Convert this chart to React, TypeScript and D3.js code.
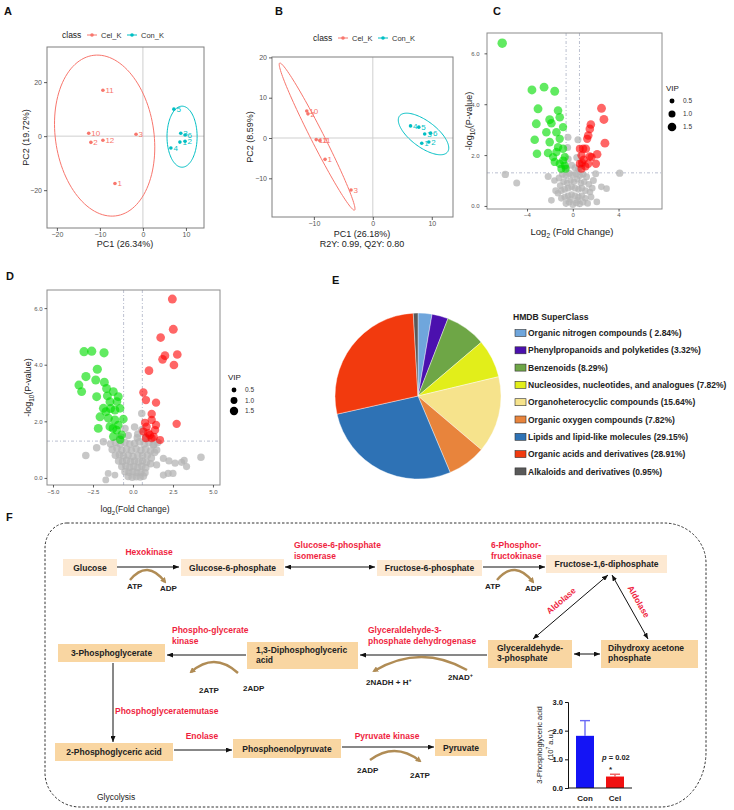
import React, { useEffect, useRef } from "react";
import * as d3 from "d3";

const FONT = "'Liberation Sans', Arial, Helvetica, sans-serif";
const CEL = "#f8766d";
const CON = "#00bfc4";

// ---------- A: PCA scores ----------
const pcaClasses = ["Cel_K", "Con_K"];
const pcaACel: [string, number, number][] = [
  ["11", -9.3, 17], ["10", -12.6, 1.1], ["2", -12.1, -2.3],
  ["12", -9.3, -1.5], ["3", -1.6, 0.7], ["1", -6.5, -17.5],
];
const pcaACon: [string, number, number][] = [
  ["5", 7.2, 10], ["3", 8.8, 1.1], ["6", 9.8, 0.4],
  ["2", 9.8, -1.9], ["1", 8.6, -2.2], ["4", 6.5, -4.4],
];
// ellipse: centre x, centre y, first semi-axis (x,y), second semi-axis (x,y)
const pcaAEllipses = [
  [-8.9, 0.2, -1.9, 29.8, 11.5, 0.5],
  [9.1, -0.2, 0, 11.3, 3.5, 0],
];
const pcaAXTicks = [-20, -10, 0, 10];
const pcaAYTicks = [-20, 0, 20];

// ---------- B: OPLS-DA scores ----------
const plsBCel: [string, number, number][] = [
  ["10", -11.2, 6.7], ["2", -11.0, 6.0], ["12", -9.6, -0.4],
  ["11", -9.0, -0.6], ["1", -8.1, -5.3], ["3", -3.7, -12.9],
];
const plsBCon: [string, number, number][] = [
  ["4", 6.4, 3.0], ["5", 7.8, 2.7], ["3", 8.8, 1.0],
  ["6", 9.8, 1.2], ["1", 8.3, -1.3], ["2", 9.5, -1.0],
];
const plsBEllipses = [
  [-9.45, 0.35, -6.35, 18.25, 0.98, 0.73],
  [8.6, 1.0, 4.07, -4.47, 1.32, 2.58],
];
const plsBXTicks = [-10, 0, 10];
const plsBYTicks = [-10, 0, 10, 20];

// ---------- C / D: volcano plots  [log2FC, -log10 p, VIP] ----------
const volcCDown = [
  [-6.17, 6.4, 1.8], [-3.57, 4.56, 1.6], [-2.51, 4.67, 1.6], [-1.58, 4.51, 1.6], [-3.04, 3.82, 1.6],
  [-1.29, 3.75, 1.5], [-3.19, 3.23, 1.6], [-2.02, 3.39, 1.6], [-1.87, 3.25, 1.5], [-1.14, 3.49, 1.5],
  [-0.85, 3.1, 1.4], [-2.31, 2.9, 1.5], [-1.43, 2.9, 1.5], [-3.33, 2.6, 1.5], [-2.02, 2.51, 1.5],
  [-1.14, 2.64, 1.4], [-1.29, 2.31, 1.4], [-3.13, 2.05, 1.5], [-2.16, 2.08, 1.5], [-1.43, 2.12, 1.4],
  [-0.85, 2.25, 1.4], [-0.7, 1.92, 1.3], [-1.14, 1.66, 1.4], [-0.7, 1.59, 1.3], [-1.58, 1.73, 1.4],
  [-1.0, 1.46, 1.3], [-0.62, 1.46, 1.3], [-0.85, 1.79, 1.3], [-1.72, 1.92, 1.4],
];
const volcCUp = [
  [2.51, 3.84, 1.6], [2.72, 3.4, 1.6], [1.58, 3.2, 1.5], [1.49, 3.03, 1.5], [1.35, 2.77, 1.5],
  [1.26, 2.64, 1.4], [2.81, 2.47, 1.6], [0.91, 2.25, 1.4], [1.14, 2.25, 1.5], [0.76, 1.99, 1.4],
  [1.49, 1.95, 1.4], [2.13, 2.03, 1.5], [0.61, 1.66, 1.3], [1.35, 1.66, 1.4], [2.02, 1.66, 1.4],
  [0.76, 1.46, 1.3], [1.64, 1.92, 1.4], [0.96, 1.82, 1.4], [0.61, 2.25, 1.3], [1.1, 1.55, 1.3], [0.8, 1.7, 1.3],
];
const volcCNs = [
  [-5.9, 1.24, 1.1], [-4.9, 0.9, 1.0], [-2.15, 1.16, 1.0], [-0.42, 2.7, 1.0], [0.45, 2.6, 1.0],
  [-0.45, 2.3, 1.0], [2.0, 1.27, 1.0], [4.1, 1.29, 1.1], [-1.87, 0.22, 0.9], [-1.5, 0.6, 0.9],
  [2.95, 0.68, 0.9], [2.5, 0.75, 0.9], [2.1, 0.16, 0.9], [1.8, 1.0, 1.0],
  [-1.2, 1.1, 1.0], [-0.9, 1.25, 1.0], [-0.6, 1.2, 1.0], [-0.3, 1.28, 1.0], [0.0, 1.22, 1.0],
  [0.3, 1.27, 1.0], [0.6, 1.2, 1.0], [0.9, 1.25, 1.0], [1.2, 1.15, 1.0], [-1.1, 0.8, 0.9],
  [-0.8, 0.95, 0.9], [-0.5, 0.9, 0.9], [-0.2, 1.0, 0.9], [0.1, 0.95, 0.9], [0.4, 1.05, 0.9],
  [0.7, 0.9, 0.9], [1.0, 0.95, 0.9], [1.4, 0.85, 0.9], [-1.3, 0.5, 0.9], [-1.0, 0.6, 0.9],
  [-0.7, 0.65, 0.9], [-0.4, 0.7, 0.9], [-0.1, 0.75, 0.9], [0.2, 0.7, 0.9], [0.5, 0.65, 0.9],
  [0.8, 0.7, 0.9], [1.1, 0.6, 0.9], [1.5, 0.55, 0.9], [-1.0, 0.3, 0.9], [-0.7, 0.35, 0.9],
  [-0.4, 0.4, 0.9], [-0.1, 0.45, 0.9], [0.2, 0.4, 0.9], [0.5, 0.35, 0.9], [0.8, 0.4, 0.9],
  [1.1, 0.3, 0.9], [1.6, 0.35, 0.9], [-0.6, 0.1, 0.9], [-0.3, 0.15, 0.9], [0.0, 0.05, 0.9],
  [0.3, 0.12, 0.9], [0.6, 0.08, 0.9], [0.9, 0.15, 0.9], [-0.2, 0.25, 0.9], [0.4, 0.22, 0.9],
  [1.3, 0.1, 0.9], [-1.6, 1.0, 0.9], [1.7, 0.7, 0.9], [0.2, 1.5, 1.0], [-0.1, 1.6, 1.0],
  [0.5, 1.45, 1.0], [-0.6, 1.5, 1.0], [0.8, 1.6, 1.0], [-0.4, 1.85, 1.0], [0.35, 1.9, 1.0],
];
const volcCXTicks = [-4, 0, 4];
const volcCYTicks = [0, 2, 4, 6];

const volcDDown = [
  [-3.06, 4.46, 1.8], [-2.58, 4.48, 1.8], [-1.81, 4.42, 1.8], [-2.23, 3.84, 1.8], [-2.94, 3.58, 1.8],
  [-2.33, 3.46, 1.7], [-3.38, 3.28, 1.7], [-3.21, 3.05, 1.7], [-1.79, 3.38, 1.7], [-1.65, 3.16, 1.7],
  [-2.27, 2.87, 1.7], [-1.23, 3.05, 1.7], [-1.44, 2.69, 1.7], [-0.92, 2.87, 1.7], [-1.85, 2.46, 1.7],
  [-1.13, 2.4, 1.7], [-0.81, 2.46, 1.6], [-2.06, 2.16, 1.7], [-1.54, 2.11, 1.7], [-1.13, 2.05, 1.7],
  [-0.6, 2.08, 1.6], [-2.17, 1.75, 1.7], [-1.44, 1.81, 1.7], [-1.02, 1.69, 1.6], [-1.23, 1.46, 1.6],
  [-0.71, 1.52, 1.6], [-0.92, 1.87, 1.6], [-1.69, 2.34, 1.7], [-1.4, 2.45, 1.7], [-1.0, 2.7, 1.6],
  [-1.6, 2.9, 1.7], [-0.8, 1.35, 1.5], [-1.25, 1.75, 1.6],
];
const volcDUp = [
  [2.46, 6.32, 1.7], [2.52, 5.25, 1.7], [1.73, 4.96, 1.6], [2.77, 4.36, 1.6], [2.0, 4.32, 1.6],
  [1.85, 4.19, 1.6], [2.56, 3.99, 1.6], [1.0, 3.79, 1.6], [0.65, 3.02, 1.5], [0.81, 2.75, 1.5],
  [1.44, 2.66, 1.5], [1.17, 2.26, 1.5], [1.17, 2.05, 1.5], [1.44, 1.87, 1.5], [2.73, 1.91, 1.5],
  [0.85, 1.81, 1.5], [0.96, 1.58, 1.5], [1.38, 1.69, 1.5], [0.81, 1.4, 1.4], [1.69, 1.34, 1.4],
  [1.17, 1.4, 1.4], [0.65, 1.64, 1.4], [1.06, 1.52, 1.5], [0.75, 1.95, 1.4], [1.3, 1.45, 1.4],
];
const volcDNs = [
  [-2.95, 0.79, 1.2], [-2.27, 1.07, 1.2], [-1.85, 1.28, 1.2], [-1.7, -0.07, 1.0], [-1.55, 0.16, 1.0],
  [-1.13, 0.1, 1.0], [0.55, 2.28, 1.2], [4.25, 0.73, 1.2], [2.63, 0.52, 1.1], [3.04, 0.55, 1.1],
  [3.35, 0.4, 1.1], [2.2, 0.16, 1.1], [2.5, 0.16, 1.1], [1.9, 0.1, 1.1], [1.48, 0.46, 1.1],
  [1.9, 0.69, 1.1], [1.48, 0.99, 1.2], [1.27, 1.16, 1.2], [0.27, 1.42, 1.2], [2.25, 0.6, 1.1], [3.2, 0.62, 1.1],
  [-1.4, 1.2, 1.2], [-1.1, 1.25, 1.2], [-0.8, 1.2, 1.2], [-0.5, 1.25, 1.2], [-0.2, 1.2, 1.2],
  [0.1, 1.22, 1.2], [0.4, 1.28, 1.2], [0.7, 1.2, 1.2], [1.0, 1.25, 1.2], [1.3, 1.18, 1.2], [1.55, 1.25, 1.2],
  [-1.3, 1.0, 1.2], [-1.0, 1.05, 1.2], [-0.7, 0.98, 1.2], [-0.4, 1.02, 1.2], [-0.1, 0.97, 1.2],
  [0.2, 1.03, 1.2], [0.5, 0.98, 1.2], [0.8, 1.02, 1.2], [1.1, 0.95, 1.2], [1.35, 0.9, 1.2],
  [-1.1, 0.8, 1.2], [-0.85, 0.82, 1.2], [-0.6, 0.78, 1.2], [-0.3, 0.8, 1.2], [0.0, 0.76, 1.2],
  [0.3, 0.8, 1.2], [0.6, 0.78, 1.2], [0.9, 0.8, 1.2], [1.15, 0.7, 1.2],
  [-0.9, 0.6, 1.2], [-0.65, 0.58, 1.2], [-0.4, 0.62, 1.2], [-0.15, 0.57, 1.2], [0.1, 0.6, 1.2],
  [0.35, 0.56, 1.2], [0.6, 0.6, 1.2], [0.85, 0.55, 1.2], [1.1, 0.5, 1.2],
  [-0.7, 0.4, 1.2], [-0.45, 0.42, 1.2], [-0.2, 0.38, 1.2], [0.05, 0.4, 1.2], [0.3, 0.37, 1.2],
  [0.55, 0.41, 1.2], [0.8, 0.36, 1.2],
  [-0.5, 0.22, 1.2], [-0.25, 0.2, 1.2], [0.0, 0.22, 1.2], [0.25, 0.18, 1.2], [0.5, 0.2, 1.2], [0.75, 0.18, 1.2],
  [-0.3, 0.05, 1.2], [-0.05, 0.02, 1.2], [0.2, 0.04, 1.2], [0.45, 0.03, 1.2], [0.65, 0.06, 1.2],
  [-0.8, 1.45, 1.2], [-0.3, 1.5, 1.2], [0.3, 1.55, 1.2], [0.8, 1.45, 1.2], [-0.5, 1.75, 1.2],
  [0.1, 1.8, 1.2], [0.55, 1.7, 1.2],
];
const volcDXTicks = [-5, -2.5, 0, 2.5, 5];
const volcDYTicks = [0, 2, 4, 6];
const vipLegend = [0.5, 1.0, 1.5];
const fcCut = Math.log2(1.5);
const pCut = -Math.log10(0.05);

// ---------- E: HMDB super classes ----------
const superClassLabels = [
  "Organic nitrogen compounds ( 2.84%)",
  "Phenylpropanoids and polyketides (3.32%)",
  "Benzenoids (8.29%)",
  "Nucleosides, nucleotides, and analogues (7.82%)",
  "Organoheterocyclic compounds (15.64%)",
  "Organic oxygen compounds (7.82%)",
  "Lipids and lipid-like molecules (29.15%)",
  "Organic acids and derivatives (28.91%)",
  "Alkaloids and derivatives (0.95%)",
];
const superClassPct = [2.84, 3.32, 8.29, 7.82, 15.64, 7.82, 29.15, 28.91, 0.95];
const superClassColors = [
  "#6fa6dc", "#4b10ae", "#6ea646", "#e2ee1a", "#f6e38c", "#e8843c", "#2e72b5", "#f23a0e", "#595959",
];

// ---------- F: glycolysis pathway ----------
const metabolites = [
  ["Glucose"], ["Glucose-6-phosphate"], ["Fructose-6-phosphate"], ["Fructose-1,6-diphosphate"],
  ["Glyceraldehyde-", "3-phosphate"], ["Dihydroxy acetone", "phosphate"], ["1,3-Diphosphoglyceric", "acid"],
  ["3-Phosphoglycerate"], ["2-Phosphoglyceric acid"], ["Phosphoenolpyruvate"], ["Pyruvate"],
];
const enzymes = [
  ["Hexokinase"], ["Glucose-6-phosphate", "isomerase"], ["6-Phosphor-", "fructokinase"], ["Aldolase"],
  ["Aldolase"], ["Glyceraldehyde-3-", "phosphate dehydrogenase"], ["Phospho-glycerate", "kinase"],
  ["Phosphoglyceratemutase"], ["Enolase"], ["Pyruvate kinase"],
];
const cofactors = [
  [["ATP", ""], ["ADP", ""]], [["ATP", ""], ["ADP", ""]], [["2NADH + H", "+"], ["2NAD", "+"]],
  [["2ATP", ""], ["2ADP", ""]], [["2ADP", ""], ["2ATP", ""]],
];
const barGroups = ["Con", "Cel"];
const barMean = [1.82, 0.4];
const barUpper = [2.35, 0.48];
const barTicks = [0, 1, 2, 3];

// layout of the pathway drawing (positions only)
const nodeBoxes = [
  { x: 63, y: 559, w: 54, h: 17, tone: 0, tx: 0 },
  { x: 181, y: 559, w: 103, h: 17, tone: 0, tx: 0 },
  { x: 377, y: 560, w: 105, h: 16, tone: 0, tx: 0 },
  { x: 546, y: 555, w: 121, h: 18, tone: 0, tx: 0 },
  { x: 488, y: 640, w: 84, h: 28, tone: 1, tx: 9 },
  { x: 601, y: 640, w: 97, h: 28, tone: 1, tx: 7 },
  { x: 247, y: 642, w: 111, h: 27, tone: 1, tx: 9 },
  { x: 58, y: 644, w: 107, h: 18, tone: 1, tx: 0 },
  { x: 55, y: 743, w: 118, h: 18, tone: 1, tx: 0 },
  { x: 233, y: 739, w: 108, h: 19, tone: 1, tx: 0 },
  { x: 435, y: 739, w: 52, h: 17, tone: 1, tx: 0 },
];
const reactionLines = [
  { x1: 117, y1: 567, x2: 179, y2: 567, both: false },
  { x1: 285, y1: 567, x2: 375, y2: 567, both: true },
  { x1: 483, y1: 567, x2: 545, y2: 567, both: false },
  { x1: 608, y1: 575, x2: 533, y2: 639, both: true },
  { x1: 612, y1: 575, x2: 648, y2: 639, both: true },
  { x1: 574, y1: 654, x2: 600, y2: 654, both: true },
  { x1: 487, y1: 655, x2: 360, y2: 655, both: false },
  { x1: 246, y1: 655, x2: 167, y2: 655, both: false },
  { x1: 113, y1: 663, x2: 113, y2: 742, both: false },
  { x1: 174, y1: 750, x2: 232, y2: 750, both: false },
  { x1: 342, y1: 747, x2: 434, y2: 747, both: false },
];
const enzymePos = [
  { x: 149, y: 555, anchor: "middle", rot: 0 },
  { x: 294, y: 548, anchor: "start", rot: 0 },
  { x: 491, y: 548, anchor: "start", rot: 0 },
  { x: 563, y: 603, anchor: "middle", rot: -40.5 },
  { x: 636, y: 603, anchor: "middle", rot: 60 },
  { x: 368, y: 633, anchor: "start", rot: 0 },
  { x: 172, y: 633, anchor: "start", rot: 0 },
  { x: 115, y: 714, anchor: "start", rot: 0 },
  { x: 202, y: 739, anchor: "middle", rot: 0 },
  { x: 387, y: 739, anchor: "middle", rot: 0 },
];
// curved cofactor arrows: start, end, peak height; labels left/right
const cofactorArcs = [
  { x1: 130, y1: 580, x2: 165, y2: 582, peak: 570, la: [127, 589], ra: [160, 591] },
  { x1: 497, y1: 580, x2: 533, y2: 582, peak: 570, la: [485, 589], ra: [525, 591] },
  { x1: 467, y1: 670, x2: 374, y2: 671, peak: 657, la: [366, 685], ra: [448, 680] },
  { x1: 238, y1: 673, x2: 191, y2: 672, peak: 662, la: [199, 693], ra: [243, 691] },
  { x1: 370, y1: 760, x2: 420, y2: 761, peak: 751, la: [357, 773], ra: [410, 778] },
];

const txt = (g: any, x: number, y: number, s: string, o: any = {}) =>
  g.append("text")
    .attr("x", x)
    .attr("y", y)
    .attr("font-family", FONT)
    .attr("font-size", o.size ?? 8)
    .attr("font-weight", o.weight ?? "normal")
    .attr("font-style", o.style ?? "normal")
    .attr("fill", o.fill ?? "#222")
    .attr("text-anchor", o.anchor ?? "start")
    .text(s);

const styleAxis = (sel: any, size: number) => {
  sel.select(".domain").remove();
  sel.selectAll("line").attr("stroke", "#333").attr("stroke-width", 0.8);
  sel.selectAll("text").attr("font-size", size).attr("fill", "#555").attr("font-family", FONT);
};

// score plot used for panels A and B
const drawScores = (svg: any, c: any) => {
  const x = d3.scaleLinear().domain(c.xDomain).range([c.l, c.r]);
  const y = d3.scaleLinear().domain(c.yDomain).range([c.b, c.t]);
  const g = svg.append("g");

  g.append("line").attr("x1", x(0)).attr("x2", x(0)).attr("y1", c.t).attr("y2", c.b)
    .attr("stroke", "#cfcfcf").attr("stroke-width", 1);
  g.append("line").attr("x1", c.l).attr("x2", c.r).attr("y1", y(0)).attr("y2", y(0))
    .attr("stroke", "#cfcfcf").attr("stroke-width", 1);

  const line = d3.line();
  c.ellipses.forEach((e: number[], i: number) => {
    const pts = d3.range(0, 121).map((k) => {
      const t = (k / 120) * 2 * Math.PI;
      return [
        x(e[0] + e[2] * Math.cos(t) + e[4] * Math.sin(t)),
        y(e[1] + e[3] * Math.cos(t) + e[5] * Math.sin(t)),
      ] as [number, number];
    });
    g.append("path").attr("d", line(pts)).attr("fill", "none")
      .attr("stroke", i === 0 ? CEL : CON).attr("stroke-width", 1);
  });

  [c.cel, c.con].forEach((set: any[], i: number) => {
    const col = i === 0 ? CEL : CON;
    set.forEach((d) => {
      g.append("circle").attr("cx", x(d[1])).attr("cy", y(d[2])).attr("r", 1.8).attr("fill", col);
      txt(g, x(d[1]) + 2.5, y(d[2]) + 3, d[0], { size: 8, fill: col });
    });
  });

  g.append("rect").attr("x", c.l).attr("y", c.t).attr("width", c.r - c.l).attr("height", c.b - c.t)
    .attr("fill", "none").attr("stroke", "#7f7f7f").attr("stroke-width", 1);

  const ax = g.append("g").attr("transform", `translate(0,${c.b})`)
    .call(d3.axisBottom(x).tickValues(c.xTicks).tickSize(3).tickPadding(1.5));
  styleAxis(ax, 7);
  const ay = g.append("g").attr("transform", `translate(${c.l},0)`)
    .call(d3.axisLeft(y).tickValues(c.yTicks).tickSize(3).tickPadding(2));
  styleAxis(ay, 7);

  c.xTitle.forEach((s: string, i: number) =>
    txt(g, c.xTitleX, c.xTitleY + i * 9.5, s, { size: 9, anchor: "middle", fill: "#222" }));
  txt(g, 0, 0, c.yTitle, { size: 9, anchor: "middle" })
    .attr("transform", `translate(${c.yTitleX},${(c.t + c.b) / 2}) rotate(-90)`);

  // legend
  txt(g, c.legX, c.legY, "class", { size: 8.5 });
  pcaClasses.forEach((name, i) => {
    const gx = c.legX + 25 + i * 40;
    const col = i === 0 ? CEL : CON;
    g.append("line").attr("x1", gx).attr("x2", gx + 10).attr("y1", c.legY - 3).attr("y2", c.legY - 3)
      .attr("stroke", col).attr("stroke-width", 1);
    g.append("circle").attr("cx", gx + 5).attr("cy", c.legY - 3).attr("r", 1.8).attr("fill", col);
    txt(g, gx + 14, c.legY, name, { size: 7.5, fill: "#333" });
  });
};

const subText = (g: any, x: number, y: number, parts: [string, boolean][], size: number, o: any = {}) => {
  const t = g.append("text").attr("x", x).attr("y", y).attr("font-family", FONT).attr("font-size", size)
    .attr("fill", o.fill ?? "#222").attr("text-anchor", o.anchor ?? "middle")
    .attr("font-weight", o.weight ?? "normal");
  let shifted = false;
  parts.forEach(([s, sub]) => {
    const dy = sub && !shifted ? size * 0.3 : !sub && shifted ? -size * 0.3 : 0;
    shifted = sub;
    t.append("tspan").attr("dy", dy).attr("font-size", sub ? size * 0.7 : size).text(s);
  });
  return t;
};

// volcano plot used for panels C and D
const drawVolcano = (svg: any, c: any) => {
  const x = d3.scaleLinear().domain(c.xDomain).range([c.l, c.r]);
  const y = d3.scaleLinear().domain(c.yDomain).range([c.b, c.t]);
  const r = d3.scaleSqrt().domain([0, 1.5]).range([0, c.rMax]);
  const g = svg.append("g");

  const clipId = `clip-${c.id}`;
  g.append("clipPath").attr("id", clipId).append("rect")
    .attr("x", c.l).attr("y", c.t).attr("width", c.r - c.l).attr("height", c.b - c.t);

  const guides = g.append("g").attr("stroke", "#aab0c4").attr("stroke-width", 0.8)
    .attr("stroke-dasharray", "3,2,1,2");
  [-fcCut, fcCut].forEach((v) =>
    guides.append("line").attr("x1", x(v)).attr("x2", x(v)).attr("y1", c.t).attr("y2", c.b));
  guides.append("line").attr("x1", c.l).attr("x2", c.r).attr("y1", y(pCut)).attr("y2", y(pCut));

  const pts = g.append("g").attr("clip-path", `url(#${clipId})`);
  const draw = (set: number[][], col: string, op: number) =>
    pts.append("g").selectAll("circle").data(set).enter().append("circle")
      .attr("cx", (d: number[]) => x(d[0])).attr("cy", (d: number[]) => y(d[1]))
      .attr("r", (d: number[]) => r(d[2])).attr("fill", col).attr("fill-opacity", op);
  draw(c.ns, "#b4b4b4", 0.75);
  draw(c.down, "#00dd00", 0.62);
  draw(c.up, "#ff0000", 0.6);

  g.append("rect").attr("x", c.l).attr("y", c.t).attr("width", c.r - c.l).attr("height", c.b - c.t)
    .attr("fill", "none").attr("stroke", "#8c8c8c").attr("stroke-width", 1);

  const ax = g.append("g").attr("transform", `translate(0,${c.b})`)
    .call(d3.axisBottom(x).tickValues(c.xTicks).tickSize(2.5).tickPadding(c.xPad)
      .tickFormat(c.xFmt ? d3.format(c.xFmt) : d3.format("")));
  styleAxis(ax, c.tickSize);
  const ay = g.append("g").attr("transform", `translate(${c.l},0)`)
    .call(d3.axisLeft(y).tickValues(c.yTicks).tickSize(2.5).tickPadding(c.yPad));
  styleAxis(ay, c.tickSize);

  subText(g, c.xTitleX, c.xTitleY, c.xTitle, c.xTitleSize);
  subText(g, 0, 0, [["-log", false], ["10", true], ["(P-value)", false]], 9)
    .attr("transform", `translate(${c.yTitleX},${(c.t + c.b) / 2}) rotate(-90)`);

  txt(g, c.legX - 6, c.legY, "VIP", { size: 8, fill: "#222" });
  vipLegend.forEach((v, i) => {
    const cy = c.legY + 10 + i * c.legStep;
    g.append("circle").attr("cx", c.legX).attr("cy", cy).attr("r", r(v)).attr("fill", "#000");
    txt(g, c.legX + 11, cy + 2.3, d3.format(".1f")(v), { size: 6.5, fill: "#333" });
  });
};

const drawPie = (svg: any) => {
  const g = svg.append("g").attr("transform", "translate(418,396)");
  const pie = d3.pie<number>().sort(null).value((d) => d);
  const arc = d3.arc<any>().innerRadius(0).outerRadius(83);
  g.selectAll("path").data(pie(superClassPct)).enter().append("path")
    .attr("d", arc).attr("fill", (_: any, i: number) => superClassColors[i])
    .attr("stroke", "#ffffff").attr("stroke-width", 0.4);

  const lg = svg.append("g");
  txt(lg, 513, 320, "HMDB SuperClass", { size: 8.6, weight: "bold", fill: "#222" });
  superClassLabels.forEach((s, i) => {
    const yy = 333 + i * 17.3;
    lg.append("rect").attr("x", 515).attr("y", yy - 3.5).attr("width", 11).attr("height", 7)
      .attr("fill", superClassColors[i]).attr("stroke", "#333").attr("stroke-width", 0.6);
    txt(lg, 528, yy + 3.1, s, { size: 8.5, weight: "bold", fill: "#222" });
  });
};

const drawPathway = (svg: any) => {
  const g = svg.append("g");
  const RED = "#ef1f3f";
  const TAN = "#b08c55";

  const defs = g.append("defs");
  defs.append("marker").attr("id", "ahead").attr("viewBox", "0 0 6 5").attr("refX", 6).attr("refY", 2.5)
    .attr("markerWidth", 6).attr("markerHeight", 5).attr("markerUnits", "userSpaceOnUse")
    .attr("orient", "auto-start-reverse")
    .append("path").attr("d", "M0,0 L6,2.5 L0,5 Z").attr("fill", "#111");
  defs.append("marker").attr("id", "tanhead").attr("viewBox", "0 0 6 6").attr("refX", 4).attr("refY", 3)
    .attr("markerWidth", 6).attr("markerHeight", 6).attr("markerUnits", "userSpaceOnUse")
    .attr("orient", "auto")
    .append("path").attr("d", "M0,0 L6,3 L0,6 Z").attr("fill", TAN);

  // dashed frame with uneven rounded corners
  const L = 45, T = 523, R = 706, B = 807;
  const border =
    `M${L + 22},${T} H${R - 42} A42,40 0 0 1 ${R},${T + 40} V${B - 55} ` +
    `A45,55 0 0 1 ${R - 45},${B} H${L + 35} A35,34 0 0 1 ${L},${B - 34} V${T + 25} ` +
    `A22,25 0 0 1 ${L + 22},${T} Z`;
  g.append("path").attr("d", border).attr("fill", "none").attr("stroke", "#333")
    .attr("stroke-width", 1).attr("stroke-dasharray", "2.5,1.8");

  metabolites.forEach((lines, i) => {
    const b = nodeBoxes[i];
    g.append("rect").attr("x", b.x).attr("y", b.y).attr("width", b.w).attr("height", b.h)
      .attr("fill", b.tone === 0 ? "#fde9d2" : "#f9d6a2");
    if (lines.length === 1) {
      txt(g, b.x + b.w / 2, b.y + b.h / 2 + 3, lines[0], { size: 8.5, weight: "bold", anchor: "middle" });
    } else {
      lines.forEach((s, k) =>
        txt(g, b.x + b.tx, b.y + 11 + k * 10, s, { size: 8.5, weight: "bold" }));
    }
  });

  reactionLines.forEach((l) => {
    const p = g.append("line").attr("x1", l.x1).attr("y1", l.y1).attr("x2", l.x2).attr("y2", l.y2)
      .attr("stroke", "#111").attr("stroke-width", 1).attr("marker-end", "url(#ahead)");
    if (l.both) p.attr("marker-start", "url(#ahead)");
  });

  enzymes.forEach((lines, i) => {
    const p = enzymePos[i];
    lines.forEach((s, k) => {
      const t = txt(g, p.x, p.y + k * 11, s, { size: 8.5, weight: "bold", fill: RED, anchor: p.anchor });
      if (p.rot) t.attr("transform", `rotate(${p.rot},${p.x},${p.y})`);
    });
  });

  cofactorArcs.forEach((a, i) => {
    const cy = 2 * a.peak - (a.y1 + a.y2) / 2;
    const cx = (a.x1 + a.x2) / 2;
    g.append("path").attr("d", `M${a.x1},${a.y1} Q${cx},${cy} ${a.x2},${a.y2}`)
      .attr("fill", "none").attr("stroke", TAN).attr("stroke-width", 2.4)
      .attr("marker-end", "url(#tanhead)");
    const [lt, rt] = cofactors[i];
    [[lt, a.la], [rt, a.ra]].forEach(([lab, pos]: any) => {
      const t = txt(g, pos[0], pos[1], lab[0], { size: 8, weight: "bold" });
      if (lab[1]) t.append("tspan").attr("dy", -3).attr("font-size", 5.5).text(lab[1]);
    });
  });

  txt(g, 97, 800, "Glycolysis", { size: 8.5, fill: "#222" });

  // inset bar chart
  const x = d3.scaleBand().domain(barGroups).range([570, 630]).paddingInner(0.3).paddingOuter(0.15);
  const y = d3.scaleLinear().domain([0, 3]).range([788, 702]);
  const bw = 18;
  const barCol = ["#1414f5", "#f01010"];
  const errCol = ["#6a6af5", "#f05a5a"];
  barGroups.forEach((k, i) => {
    const cx = (x(k) as number) + x.bandwidth() / 2;
    g.append("line").attr("x1", cx).attr("x2", cx).attr("y1", y(barMean[i])).attr("y2", y(barUpper[i]))
      .attr("stroke", errCol[i]).attr("stroke-width", 1.4);
    g.append("line").attr("x1", cx - 5).attr("x2", cx + 5).attr("y1", y(barUpper[i])).attr("y2", y(barUpper[i]))
      .attr("stroke", errCol[i]).attr("stroke-width", 1.4);
    g.append("rect").attr("x", cx - bw / 2).attr("y", y(barMean[i])).attr("width", bw)
      .attr("height", y(0) - y(barMean[i])).attr("fill", barCol[i]);
  });
  const ay = g.append("g").attr("transform", "translate(568,0)")
    .call(d3.axisLeft(y).tickValues(barTicks).tickSize(3).tickPadding(2));
  ay.select(".domain").attr("stroke", "#111");
  ay.selectAll("line").attr("stroke", "#111");
  ay.selectAll("text").attr("font-size", 7.5).attr("font-weight", "bold").attr("fill", "#111")
    .attr("font-family", FONT);
  g.append("line").attr("x1", 568).attr("x2", 632).attr("y1", 788).attr("y2", 788).attr("stroke", "#111");
  barGroups.forEach((k) =>
    txt(g, (x(k) as number) + x.bandwidth() / 2, 801, k, { size: 8, weight: "bold", anchor: "middle" }));
  const yt = g.append("g").attr("transform", "translate(0,745) rotate(-90)");
  txt(yt, 0, 542, "3-Phosphoglyceric acid", { size: 7.5, anchor: "middle" });
  const u = txt(yt, 0, 553, "(10", { size: 7.5, anchor: "middle" });
  u.append("tspan").attr("dy", -3).attr("font-size", 5).text("7");
  u.append("tspan").attr("dy", 3).text(" a.u.)");
  const pv = txt(g, 602, 760, "p", { size: 7.5, weight: "bold", style: "italic" });
  pv.append("tspan").attr("font-style", "normal").text(" = 0.02");
  txt(g, 609, 772, "*", { size: 8, weight: "bold" });
};

const App = () => {
  const ref = useRef<SVGSVGElement>(null);

  useEffect(() => {
    const svg = d3.select(ref.current);
    svg.selectAll("*").remove();
    svg.append("rect").attr("width", 734).attr("height", 810).attr("fill", "#fff");

    // panel letters
    [["A", 4, 15], ["B", 275, 15], ["C", 493, 15], ["D", 6, 280], ["E", 332, 284], ["F", 6, 521]].forEach(
      ([s, px, py]: any) => txt(svg, px, py, s, { size: 11, weight: "bold", fill: "#111" }));

    drawScores(svg, {
      l: 47, r: 204, t: 47, b: 228, xDomain: [-22.3, 14.2], yDomain: [-34, 33],
      xTicks: pcaAXTicks, yTicks: pcaAYTicks, cel: pcaACel, con: pcaACon, ellipses: pcaAEllipses,
      xTitle: ["PC1 (26.34%)"], xTitleX: 125, xTitleY: 247, yTitle: "PC2 (19.72%)", yTitleX: 29,
      legX: 62, legY: 38,
    });
    drawScores(svg, {
      l: 272, r: 453, t: 57, b: 217, xDomain: [-17.1, 13.6], yDomain: [-19.6, 20.1],
      xTicks: plsBXTicks, yTicks: plsBYTicks, cel: plsBCel, con: plsBCon, ellipses: plsBEllipses,
      xTitle: ["PC1 (26.18%)", "R2Y: 0.99, Q2Y: 0.80"], xTitleX: 362, xTitleY: 237,
      yTitle: "PC2 (8.59%)", yTitleX: 253, legX: 313, legY: 41,
    });
    drawVolcano(svg, {
      id: "c", l: 487, r: 662, t: 33, b: 209, xDomain: [-7.5, 7.8], yDomain: [-0.12, 6.8],
      xTicks: volcCXTicks, yTicks: volcCYTicks, up: volcCUp, down: volcCDown, ns: volcCNs,
      rMax: 4.3, tickSize: 6, xPad: 1.5, yPad: 5,
      xTitle: [["Log", false], ["2", true], [" (Fold Change)", false]], xTitleX: 572, xTitleY: 235, xTitleSize: 9.5,
      yTitleX: 472, legX: 672, legY: 91, legStep: 13,
    });
    drawVolcano(svg, {
      id: "d", l: 47, r: 220, t: 290, b: 485, xDomain: [-5.375, 5.44], yDomain: [-0.25, 6.64],
      xTicks: volcDXTicks, yTicks: volcDYTicks, up: volcDUp, down: volcDDown, ns: volcDNs, xFmt: ".1f",
      rMax: 4.2, tickSize: 6, xPad: 2, yPad: 2,
      xTitle: [["log", false], ["2", true], ["(Fold Change)", false]], xTitleX: 135, xTitleY: 512, xTitleSize: 8.5,
      yTitleX: 31, legX: 234, legY: 380, legStep: 10.5,
    });
    drawPie(svg);
    drawPathway(svg);
  }, []);

  return (
    <svg
      ref={ref}
      width={734}
      height={810}
      style={{ position: "absolute", left: 0, top: 0, display: "block" }}
    />
  );
};

export default App;
